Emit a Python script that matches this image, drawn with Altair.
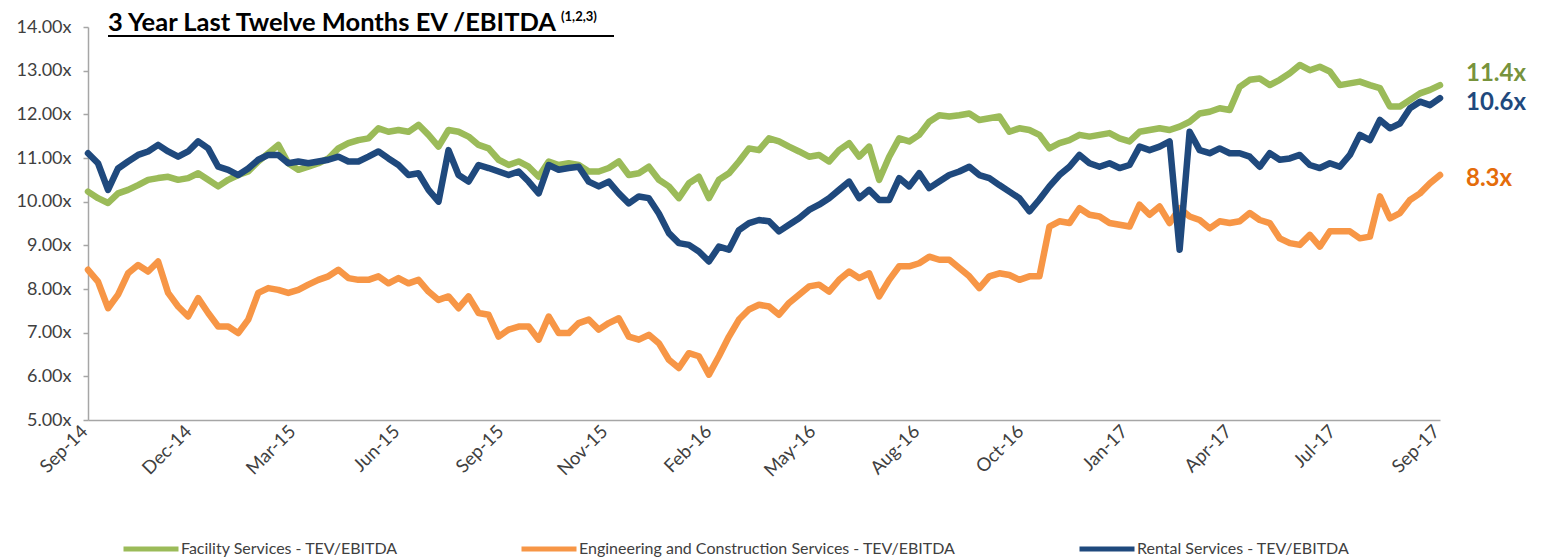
import altair as alt
import pandas as pd

series_names = [
    "Facility Services - TEV/EBITDA",
    "Engineering and Construction Services - TEV/EBITDA",
    "Rental Services - TEV/EBITDA",
]
series_colors = ["#9BBB59", "#F79646", "#1F497D"]

facility = [
    10.23, 10.08, 9.97, 10.19, 10.27, 10.38, 10.50, 10.54, 10.57, 10.50, 10.54, 10.65, 10.50, 10.35,
    10.50, 10.61, 10.69, 10.92, 11.11, 11.30, 10.88, 10.73, 10.80, 10.88, 10.99, 11.22, 11.34, 11.41,
    11.45, 11.68, 11.60, 11.64, 11.60, 11.76, 11.53, 11.26, 11.64, 11.60, 11.49, 11.30, 11.22, 10.96,
    10.84, 10.92, 10.80, 10.57, 10.92, 10.84, 10.88, 10.84, 10.69, 10.69, 10.77, 10.92, 10.61,
    10.65, 10.80, 10.50, 10.35, 10.08, 10.42, 10.57, 10.08, 10.50, 10.65, 10.92, 11.22, 11.18, 11.45,
    11.38, 11.26, 11.15, 11.03, 11.07, 10.92, 11.18, 11.34, 11.03, 11.26, 10.50, 11.03, 11.45,
    11.38, 11.53, 11.83, 11.98, 11.95, 11.98, 12.02, 11.87, 11.91, 11.95, 11.60, 11.68, 11.64, 11.53,
    11.22, 11.34, 11.41, 11.53, 11.49, 11.53, 11.57, 11.45, 11.38, 11.60, 11.64, 11.68, 11.64,
    11.72, 11.83, 12.02, 12.06, 12.14, 12.10, 12.63, 12.79, 12.82, 12.67, 12.79, 12.94, 13.13, 13.01,
    13.09, 12.98, 12.67, 12.71, 12.75, 12.67, 12.60, 12.18, 12.18, 12.33, 12.48, 12.56, 12.67,
]

engineering = [
    8.44, 8.17, 7.56, 7.87, 8.36, 8.55, 8.40, 8.63, 7.91, 7.60, 7.37, 7.79, 7.45, 7.14,
    7.14, 6.99, 7.30, 7.91, 8.02, 7.98, 7.91, 7.98, 8.10, 8.21, 8.29, 8.44, 8.25, 8.21,
    8.21, 8.29, 8.13, 8.25, 8.13, 8.21, 7.94, 7.75, 7.83, 7.56, 7.83, 7.45, 7.41, 6.91,
    7.07, 7.14, 7.14, 6.84, 7.37, 6.99, 6.99, 7.22, 7.30, 7.07, 7.22, 7.33, 6.91,
    6.84, 6.95, 6.76, 6.38, 6.19, 6.53, 6.46, 6.04, 6.46, 6.91, 7.30, 7.53, 7.64, 7.60,
    7.41, 7.68, 7.87, 8.06, 8.10, 7.94, 8.21, 8.40, 8.25, 8.36, 7.83, 8.21, 8.52,
    8.52, 8.59, 8.74, 8.67, 8.67, 8.48, 8.29, 8.02, 8.29, 8.36, 8.32, 8.21, 8.29, 8.29,
    9.43, 9.55, 9.51, 9.85, 9.70, 9.66, 9.51, 9.47, 9.43, 9.93, 9.70, 9.89, 9.51,
    9.85, 9.66, 9.58, 9.39, 9.55, 9.51, 9.55, 9.74, 9.58, 9.51, 9.16, 9.05, 9.01, 9.24,
    8.97, 9.32, 9.32, 9.32, 9.16, 9.20, 10.12, 9.62, 9.74, 10.04, 10.19, 10.42, 10.61,
]

rental = [
    11.11, 10.88, 10.27, 10.76, 10.92, 11.07, 11.15, 11.30, 11.15, 11.03, 11.15, 11.38, 11.22, 10.80,
    10.73, 10.61, 10.76, 10.96, 11.07, 11.07, 10.88, 10.92, 10.88, 10.92, 10.96, 11.03, 10.92, 10.92,
    11.03, 11.15, 10.99, 10.84, 10.61, 10.65, 10.27, 10.00, 11.18, 10.61, 10.46, 10.84, 10.77, 10.69,
    10.61, 10.69, 10.46, 10.19, 10.84, 10.73, 10.77, 10.80, 10.46, 10.35, 10.46, 10.19, 9.96,
    10.12, 10.08, 9.73, 9.28, 9.05, 9.01, 8.86, 8.63, 8.97, 8.90, 9.35, 9.51, 9.58, 9.55,
    9.32, 9.47, 9.62, 9.81, 9.93, 10.08, 10.27, 10.46, 10.08, 10.27, 10.04, 10.04, 10.54,
    10.35, 10.65, 10.31, 10.46, 10.61, 10.69, 10.80, 10.61, 10.54, 10.38, 10.23, 10.08, 9.78, 10.05,
    10.35, 10.61, 10.80, 11.07, 10.88, 10.80, 10.88, 10.77, 10.84, 11.26, 11.18, 11.26, 11.38,
    8.90, 11.60, 11.18, 11.11, 11.22, 11.11, 11.11, 11.03, 10.80, 11.11, 10.96, 10.99, 11.07, 10.84,
    10.77, 10.88, 10.80, 11.07, 11.53, 11.41, 11.87, 11.68, 11.79, 12.14, 12.29, 12.21, 12.37,
]

x_labels = ["Sep-14", "Dec-14", "Mar-15", "Jun-15", "Sep-15", "Nov-15", "Feb-16",
            "May-16", "Aug-16", "Oct-16", "Jan-17", "Apr-17", "Jul-17", "Sep-17"]
y_ticks = [5, 6, 7, 8, 9, 10, 11, 12, 13, 14]

end_labels = ["11.4x", "10.6x", "8.3x"]
end_label_y = [12.93, 12.25, 10.53]
end_label_colors = ["#77933C", "#1F497D", "#E46C0A"]

title_text = "3 Year Last Twelve Months EV /EBITDA"
title_sup = "(1,2,3)"

FONT = "Lato"
n_last = len(facility) - 1
n_int = len(x_labels) - 1

rows = []
for name, vals in zip(series_names, [facility, engineering, rental]):
    for i, v in enumerate(vals):
        rows.append({"idx": i, "value": v, "series": name})
df = pd.DataFrame(rows)

label_arr = "[" + ",".join("'%s'" % s for s in x_labels) + "]"
x_tick_vals = [n_last * k / n_int for k in range(len(x_labels))]

x_enc = alt.X(
    "idx:Q",
    scale=alt.Scale(domain=[0, n_last], nice=False, zero=False),
    axis=alt.Axis(
        values=x_tick_vals,
        labelExpr=label_arr + "[round(datum.value * %d / %d)]" % (n_int, n_last),
        title=None, grid=False, ticks=False,
        domainColor="#A6A6A6", domainWidth=1.5,
        labelAngle=-45, labelAlign="right", labelBaseline="middle",
        labelPadding=8, labelOffset=-4, labelFont=FONT, labelFontSize=18.5, labelColor="#404040",
        labelOverlap=False, labelFlush=False, labelBound=False,
    ),
)
y_enc = alt.Y(
    "value:Q",
    scale=alt.Scale(domain=[5, 14], nice=False, zero=False),
    axis=alt.Axis(
        values=y_ticks,
        labelExpr="format(datum.value, '.2f') + 'x'",
        title=None, grid=False,
        tickSize=5, tickColor="#A6A6A6", tickWidth=1.5,
        domainColor="#A6A6A6", domainWidth=1.5,
        labelPadding=12, labelFont=FONT, labelFontSize=18, labelColor="#404040",
    ),
)

lines = alt.Chart(df).mark_line(
    strokeWidth=6.5, strokeCap="round", strokeJoin="round"
).encode(
    x=x_enc,
    y=y_enc,
    color=alt.Color(
        "series:N",
        scale=alt.Scale(domain=series_names, range=series_colors),
        legend=alt.Legend(
            orient="none", legendX=33, legendY=492, direction="horizontal", columns=3,
            title=None, symbolType="stroke", symbolSize=3025, symbolStrokeWidth=5,
            labelFont=FONT, labelFontSize=16, labelColor="#404040",
            columnPadding=113, labelOffset=0, labelLimit=0,
        ),
    ),
)

end_df = pd.DataFrame({"label": end_labels, "y": end_label_y,
                       "color": end_label_colors, "x": [n_last] * 3})
end_text = alt.Chart(end_df).mark_text(
    align="left", baseline="middle", font=FONT, fontWeight="bold", fontSize=24, dx=26
).encode(
    x="x:Q", y="y:Q", text="label:N", color=alt.Color("color:N", scale=None)
)

title = alt.Chart(pd.DataFrame({"t": [title_text]})).mark_text(
    align="left", baseline="alphabetic", font=FONT, fontWeight="bold", fontSize=25.5, color="#000000"
).encode(x=alt.value(20), y=alt.value(4), text="t:N")

sup = alt.Chart(pd.DataFrame({"t": [title_sup]})).mark_text(
    align="left", baseline="alphabetic", font=FONT, fontWeight="bold", fontSize=13, color="#000000"
).encode(x=alt.value(473), y=alt.value(-6), text="t:N")

underline = alt.Chart(pd.DataFrame({"t": [0]})).mark_rule(
    color="#000000", strokeWidth=2
).encode(x=alt.value(20), x2=alt.value(526), y=alt.value(9))

chart = alt.layer(lines, end_text, title, sup, underline).properties(
    width=1352, height=393,
    autosize=alt.AutoSizeParams(type="none"),
    padding={"left": 80, "top": 19, "right": 95, "bottom": 140},
).configure_view(stroke=None)

chart.save("out.html", embed_options={"renderer": "svg", "actions": False})
